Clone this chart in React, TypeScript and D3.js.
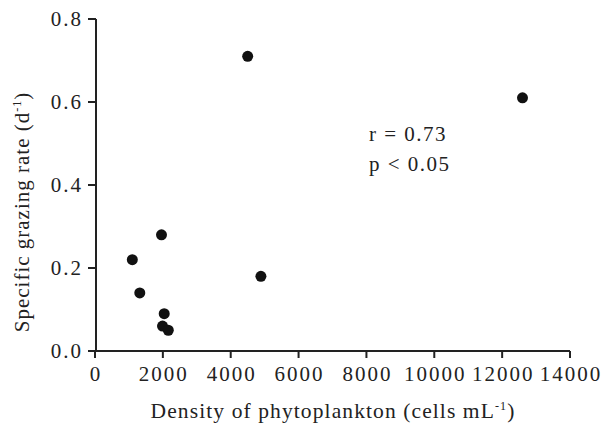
import React from "react";
import * as d3 from "d3";

const densityValues = [1100, 1320, 1960, 2040, 1990, 2160, 4890, 4500, 12600];
const grazingValues = [0.22, 0.14, 0.28, 0.09, 0.06, 0.05, 0.18, 0.71, 0.61];
const xTicks = [0, 2000, 4000, 6000, 8000, 10000, 12000, 14000];
const yTicks = [0, 0.2, 0.4, 0.6, 0.8];
const statLines = ["r = 0.73", "p < 0.05"];

const W = 614;
const H = 428;
const font = "'Liberation Serif', 'Times New Roman', serif";

export default function App() {
  const x = d3.scaleLinear().domain([0, 14000]).range([95, 570]);
  const y = d3.scaleLinear().domain([0, 0.8]).range([351, 19]);
  const pts = densityValues.map((d, i) => ({ d, g: grazingValues[i] }));
  return (
    <svg width={W} height={H} style={{ position: "absolute", left: 0, top: 0, background: "#fff" }}>
      <g fontFamily={font} fill="#222">
        <line x1={x(0)} x2={x(14000)} y1={y(0)} y2={y(0)} stroke="#222" strokeWidth={2} />
        <line x1={x(0) + 1} x2={x(0) + 1} y1={y(0)} y2={y(0.8)} stroke="#222" strokeWidth={2} />
        {xTicks.map((t) => (
          <g key={"x" + t}>
            <line x1={x(t)} x2={x(t)} y1={y(0)} y2={y(0) + 7} stroke="#222" strokeWidth={2} />
            <text x={x(t) + 1} y={y(0) + 30} textAnchor="middle" fontSize={21} letterSpacing={2}>
              {d3.format("d")(t)}
            </text>
          </g>
        ))}
        {yTicks.map((t) => (
          <g key={"y" + t}>
            <line x1={x(0) + 1} x2={x(0) - 7} y1={y(t)} y2={y(t)} stroke="#222" strokeWidth={2} />
            <text x={x(0) - 12} y={y(t) + 7} textAnchor="end" fontSize={21} letterSpacing={2}>
              {d3.format(".1f")(t)}
            </text>
          </g>
        ))}
        {pts.map((p, i) => (
          <circle key={i} cx={x(p.d)} cy={y(p.g)} r={5.5} fill="#111" />
        ))}
        {statLines.map((s, i) => (
          <text key={s} x={369} y={141 + i * 30} fontSize={21} letterSpacing={1.5}>
            {s}
          </text>
        ))}
        <text x={333} y={418} textAnchor="middle" fontSize={21.5} letterSpacing={1.1}>
          Density of phytoplankton (cells mL
          <tspan dy={-8} fontSize={12}>-1</tspan>
          <tspan dy={8}>)</tspan>
        </text>
        <text transform="translate(29,212) rotate(-90)" textAnchor="middle" fontSize={21} letterSpacing={1}>
          Specific grazing rate (d
          <tspan dy={-8} fontSize={12}>-1</tspan>
          <tspan dy={8}>)</tspan>
        </text>
      </g>
    </svg>
  );
}
